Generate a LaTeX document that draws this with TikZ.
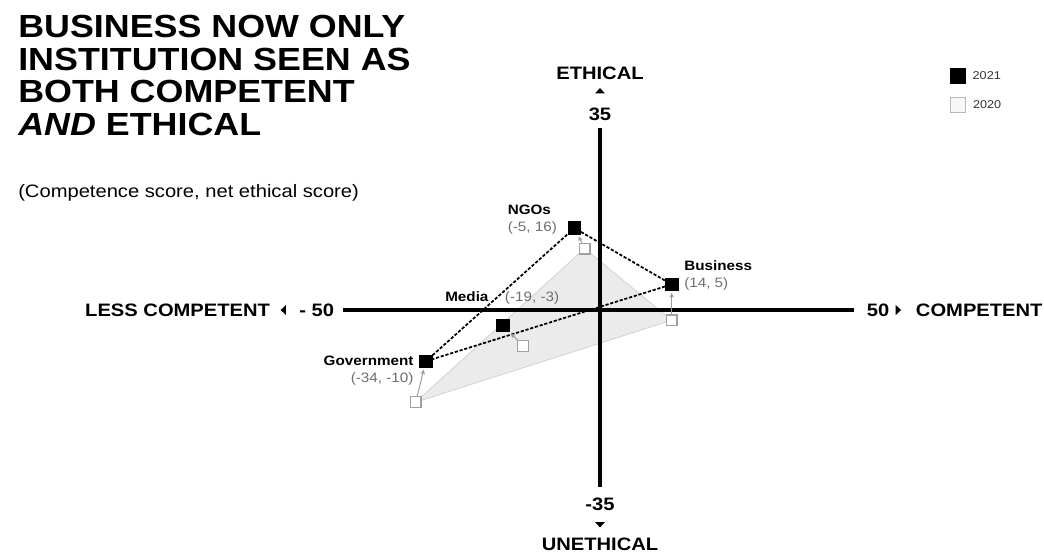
\documentclass[tikz,border=0pt]{standalone}
\usepackage{fontspec}
\setmainfont[FakeStretch=1.12]{Liberation Sans}
\usetikzlibrary{positioning,arrows.meta,backgrounds}
\definecolor{lblgray}{HTML}{6E6E6E}
\definecolor{shade}{HTML}{EBEBEB}
\definecolor{shadeline}{HTML}{D2D2D2}
\definecolor{oldgray}{HTML}{A0A0A0}
\definecolor{arrgray}{HTML}{9A9A9A}
\definecolor{keytext}{HTML}{333333}

\tikzset{
  axis/.style={line width=2.4pt},
  axlabel/.style={inner sep=0pt, font=\bfseries\fontsize{13.5}{16}\selectfont},
  new/.style={draw=black, fill=black, minimum size=9.5pt, inner sep=0pt},
  old/.style={draw=oldgray, fill=white, line width=0.9pt, minimum size=8pt, inner sep=0pt},
  link/.style={dash pattern=on 2.4pt off 1.3pt, line width=1.3pt},
  move/.style={draw=arrgray, line width=0.7pt, -{Stealth[length=3.5pt,width=3.5pt]}, shorten >=1.5pt},
  orgname/.style={inner sep=0pt, font=\bfseries\fontsize{10.2}{12}\selectfont},
  score/.style={inner sep=0pt, text=lblgray, font=\fontsize{10.2}{12}\selectfont},
  keylabel/.style={inner sep=0pt, text=keytext, font=\fontsize{8.5}{10}\selectfont},
  region/.style={fill=shade, draw=shadeline, line width=0.6pt},
  axtip/.pic={\fill (2pt,0) -- (-2pt,3.75pt) -- (-2pt,-3.75pt) -- cycle;}
}

\begin{document}
\begin{tikzpicture}[x=3.84pt, y=3.84pt]
    \useasboundingbox (-117.19,-47.85) rectangle (86.72,60.55);

    \node[anchor=north west, inner sep=0pt, align=left,
          font=\bfseries\fontsize{24}{24.5}\selectfont] (title) at (-113.67,57.62)
          {BUSINESS NOW ONLY\\INSTITUTION SEEN AS\\BOTH COMPETENT\\\textit{AND} ETHICAL};
    \node[anchor=base west, inner sep=0pt, font=\fontsize{13.5}{16}\selectfont] (subtitle)
          at (-113.67,22.07) {(Competence score, net ethical score)};

    \node[new, minimum size=11.25pt] (key21) at (69.92,45.8) {};
    \node[keylabel, right=5pt of key21] (key21txt) {2021};
    \node[old, fill=gray!6, draw=gray!55, minimum size=11.25pt] (key20) at (69.92,40.1) {};
    \node[keylabel, right=5pt of key20] (key20txt) {2020};

    \coordinate (W) at (-50.2,0);
    \coordinate (E) at (49.6,0);
    \coordinate (N) at (0,35.5);
    \coordinate (S) at (0,-34.5);
    \draw[axis] (W) -- (E);
    \draw[axis] (N) -- (S);

    \node[axlabel, left=6.5pt of W] (xlo) {- 50};
    \coordinate[left=11.8pt of xlo] (wtip);
    \pic[rotate=180] at (wtip) {axtip};
    \node[axlabel, left=9.75pt of wtip] (lesscomp) {LESS COMPETENT};

    \node[axlabel, right=9.5pt of E] (xhi) {50};
    \coordinate[right=6.6pt of xhi] (etip);
    \pic at (etip) {axtip};
    \node[axlabel, right=13pt of etip] (comp) {COMPETENT};

    \node[axlabel, above=5.25pt of N] (yhi) {35};
    \coordinate[above=12.9pt of yhi] (ntip);
    \pic[rotate=90] at (ntip) {axtip};
    \node[axlabel, above=7.9pt of ntip] (eth) {ETHICAL};

    \node[axlabel, below=8.25pt of S] (ylo) {-35};
    \coordinate[below=10.3pt of ylo] (stip);
    \pic[rotate=-90] at (stip) {axtip};
    \node[axlabel, below=9.4pt of stip] (uneth) {UNETHICAL};

    \node[old] (ngo20) at (-3,12) {};
    \node[old] (bus20) at (14,-2) {};
    \node[old] (med20) at (-15,-7) {};
    \node[old] (gov20) at (-36,-18) {};

    \begin{scope}[on background layer]
        \path[region] (gov20.center) -- (ngo20.center) -- (bus20.center) -- cycle;
    \end{scope}

    \node[new] (ngo21) at (-5,16) {};
    \node[new] (bus21) at (14,5) {};
    \node[new] (med21) at (-19,-3) {};
    \node[new] (gov21) at (-34,-10) {};

    \draw[link] (gov21) -- (ngo21) -- (bus21) -- (gov21);

    \draw[move] (ngo20) -- (ngo21);
    \draw[move] (bus20) -- (bus21);
    \draw[move] (med20) -- (med21);
    \draw[move] (gov20) -- (gov21);

    \node[score, left=8pt of ngo21] (ngoxy) {(-5, 16)};
    \node[orgname, above right=4.7pt and 0pt of ngoxy.north west] (ngoname) {NGOs};
    \node[score, right=4.3pt of bus21] (busxy) {(14, 5)};
    \node[orgname, above right=5pt and 0pt of busxy.north west] (busname) {Business};
    \node[orgname, left=4.2pt of gov21] (govname) {Government};
    \node[score, below left=4.3pt and 0pt of govname.south east] (govxy) {(-34, -10)};
    \node[orgname, above left=12.8pt and 10.5pt of med21.north] (medname) {Media};
    \node[score, right=12pt of medname.base east, anchor=base west] (medxy) {(-19, -3)};
\end{tikzpicture}
\end{document}
